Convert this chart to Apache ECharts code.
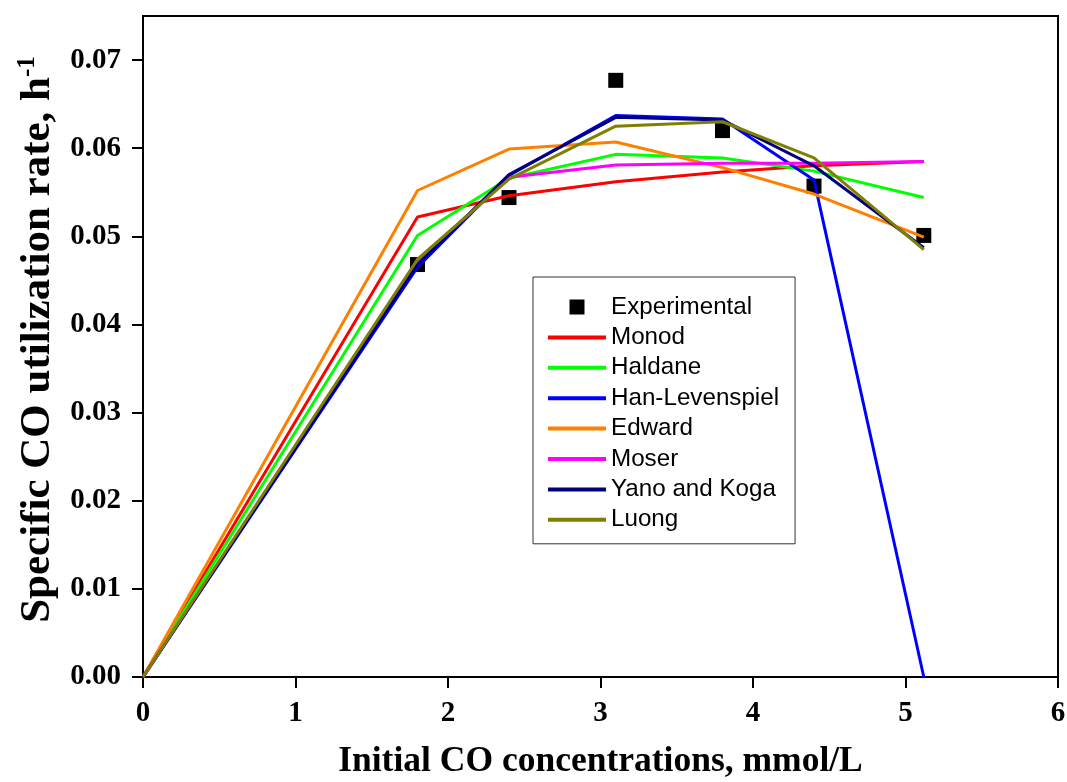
<!DOCTYPE html>
<html>
<head>
<meta charset="utf-8">
<script src="https://cdn.jsdelivr.net/npm/echarts@6/dist/echarts.min.js"></script>
<style>
  html, body { margin: 0; padding: 0; background: #fff; }
  #chart { width: 1067px; height: 782px; }
</style>
</head>
<body>
<div id="chart"></div>
<script>
// initial CO concentration, mmol/L
const concentrations = [0, 1.8, 2.4, 3.1, 3.8, 4.4, 5.12];
const expConc = [1.8, 2.4, 3.1, 3.8, 4.4, 5.12];
const experimental = [0.0468, 0.0544, 0.0677, 0.0620, 0.0557, 0.0501];

const monod = [0, 0.0522, 0.0546, 0.0562, 0.0573, 0.0580, 0.0585];
const haldane = [0, 0.0501, 0.0566, 0.0593, 0.0589, 0.0574, 0.0544];
const hanLevenspiel = [0, 0.0465, 0.0569, 0.0637, 0.0633, 0.0564, 0];
const edward = [0, 0.0552, 0.0599, 0.0607, 0.0578, 0.0548, 0.0499];
const moser = [0, 0.0472, 0.0567, 0.0581, 0.0583, 0.0583, 0.0585];
const yanoKoga = [0, 0.0468, 0.0570, 0.0635, 0.0632, 0.0580, 0.0487];
const luong = [0, 0.0474, 0.0565, 0.0625, 0.0630, 0.0589, 0.0485];

const yTicks = [0, 0.01, 0.02, 0.03, 0.04, 0.05, 0.06, 0.07];

const models = [
  { name: 'Monod', data: monod, color: '#ff0000' },
  { name: 'Haldane', data: haldane, color: '#00ff00' },
  { name: 'Han-Levenspiel', data: hanLevenspiel, color: '#0000ff' },
  { name: 'Edward', data: edward, color: '#ff8000' },
  { name: 'Moser', data: moser, color: '#ff00ff' },
  { name: 'Yano and Koga', data: yanoKoga, color: '#000080' },
  { name: 'Luong', data: luong, color: '#808000' }
];

const pairs = (xs, ys) => xs.map((x, i) => [x, ys[i]]);

const serif = 'Liberation Serif, Times New Roman, serif';

const chart = echarts.init(document.getElementById('chart'));

chart.setOption({
  animation: false,
  backgroundColor: '#fff',
  grid: {
    left: 143,
    right: 9,
    top: 16,
    bottom: 105,
    outerBoundsMode: 'none',
    show: true,
    borderColor: '#000',
    borderWidth: 2
  },
  legend: {
    orient: 'vertical',
    left: 533,
    top: 277,
    padding: [18, 16, 12, 15],
    itemWidth: 58,
    itemHeight: 15,
    itemGap: 6.4,
    borderColor: '#333',
    borderWidth: 1,
    backgroundColor: '#fff',
    textStyle: {
      fontFamily: 'Liberation Sans, Arial, sans-serif',
      fontSize: 24.2,
      color: '#000'
    },
    data: [{ name: 'Experimental', icon: 'path://M0,0h16v16h-16z' }].concat(
      models.map(m => ({ name: m.name, icon: 'path://M0,0h58v4h-58z' }))
    )
  },
  xAxis: {
    type: 'value',
    min: 0,
    max: 6,
    interval: 1,
    name: 'Initial CO concentrations, mmol/L',
    nameLocation: 'middle',
    nameGap: 67,
    nameTextStyle: {
      fontFamily: serif,
      fontWeight: 'bold',
      fontSize: 35.5,
      color: '#000'
    },
    axisLine: { onZero: false, lineStyle: { color: '#000', width: 2 } },
    axisTick: { inside: false, length: 11, lineStyle: { color: '#000', width: 2 } },
    axisLabel: {
      margin: 22,
      fontFamily: serif,
      fontWeight: 'bold',
      fontSize: 29,
      color: '#000'
    },
    splitLine: { show: false }
  },
  yAxis: {
    type: 'value',
    min: 0,
    max: 0.075,
    interval: 0.01,
    name: '{a|Specific CO utilization rate, h}{sup|-1}',
    nameLocation: 'middle',
    nameGap: 74,
    nameTextStyle: {
      color: '#000',
      padding: [0, 0, 0, 14],
      rich: {
        a: { fontFamily: serif, fontWeight: 'bold', fontSize: 43, color: '#000', lineHeight: 46 },
        sup: { fontFamily: serif, fontWeight: 'bold', fontSize: 25, color: '#000', verticalAlign: 'top', lineHeight: 46 }
      }
    },
    axisLine: { onZero: false, lineStyle: { color: '#000', width: 2 } },
    axisTick: { inside: false, length: 11, customValues: yTicks, lineStyle: { color: '#000', width: 2 } },
    axisLabel: {
      margin: 22,
      customValues: yTicks,
      fontFamily: serif,
      fontWeight: 'bold',
      fontSize: 29,
      color: '#000',
      formatter: v => v.toFixed(2)
    },
    splitLine: { show: false }
  },
  series: [
    {
      name: 'Experimental',
      type: 'scatter',
      symbol: 'rect',
      symbolSize: 15,
      itemStyle: { color: '#000', opacity: 1 },
      data: pairs(expConc, experimental),
      z: 1
    }
  ].concat(models.map((m, i) => ({
    name: m.name,
    type: 'line',
    symbol: 'none',
    lineStyle: { color: m.color, width: 3 },
    itemStyle: { color: m.color },
    data: pairs(concentrations, m.data),
    z: 2 + i
  })))
});
</script>
</body>
</html>
